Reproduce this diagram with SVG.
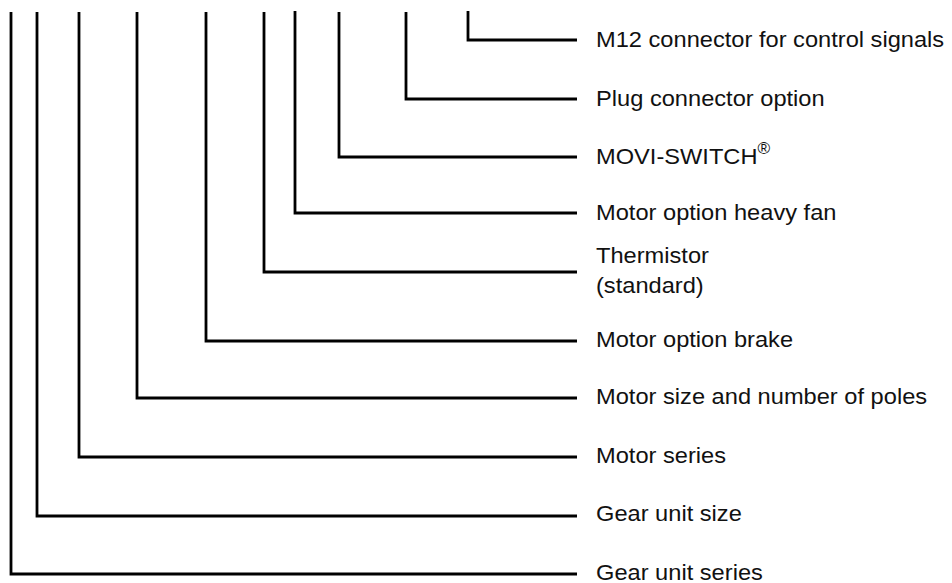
<svg xmlns="http://www.w3.org/2000/svg" width="952" height="583" viewBox="0 0 952 583">
<style>
.c{fill:none;stroke:#000;stroke-width:2.8;stroke-linecap:butt;stroke-linejoin:miter}
.t{font-family:"Liberation Sans",Arial,sans-serif;font-size:22px;fill:#111}
</style>
<rect width="952" height="583" fill="#fff"/>
<g id="connectors">
<polyline class="c" points="468,11 468,40 577,40"/>
<polyline class="c" points="406,12 406,99 577,99"/>
<polyline class="c" points="339,12 339,157 577,157"/>
<polyline class="c" points="295,11 295,213 577,213"/>
<polyline class="c" points="264,12 264,272 577,272"/>
<polyline class="c" points="206,12 206,341 577,341"/>
<polyline class="c" points="137,12 137,398 577,398"/>
<polyline class="c" points="79,12 79,457 577,457"/>
<polyline class="c" points="37,12 37,516 577,516"/>
<polyline class="c" points="11,12 11,574 577,574"/>
</g>
<g id="m12" transform="translate(596,47) scale(1.075,1)"><text class="t">M12 connector for control signals</text></g>
<g id="plug" transform="translate(596,106) scale(1.075,1)"><text class="t">Plug connector option</text></g>
<g id="moviswitch" transform="translate(596,164) scale(1.075,1)"><text class="t">MOVI-SWITCH<tspan font-size="16" dy="-10">®</tspan></text></g>
<g id="heavyfan" transform="translate(596,220) scale(1.075,1)"><text class="t">Motor option heavy fan</text></g>
<g id="thermistor" transform="translate(596,0) scale(1.075,1)"><text class="t" y="263">Thermistor</text><text class="t" y="293">(standard)</text></g>
<g id="brake" transform="translate(596,347) scale(1.075,1)"><text class="t">Motor option brake</text></g>
<g id="motorsize" transform="translate(596,404) scale(1.075,1)"><text class="t">Motor size and number of poles</text></g>
<g id="motorseries" transform="translate(596,463) scale(1.075,1)"><text class="t">Motor series</text></g>
<g id="gearsize" transform="translate(596,521) scale(1.075,1)"><text class="t">Gear unit size</text></g>
<g id="gearseries" transform="translate(596,580) scale(1.075,1)"><text class="t">Gear unit series</text></g>
</svg>
